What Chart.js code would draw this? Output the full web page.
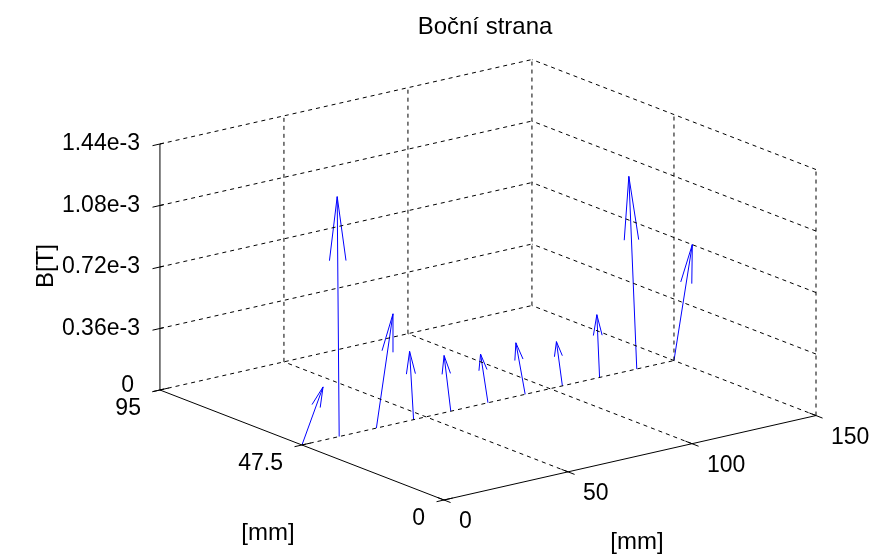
<!DOCTYPE html>
<html>
<head>
<meta charset="utf-8">
<script src="https://cdn.jsdelivr.net/npm/chart.js"></script>
<style>
  body { margin: 0; background: #fff; }
  #wrap { width: 876px; height: 556px; }
</style>
</head>
<body>
<div id="wrap"><canvas id="quiverChart" width="876" height="556"></canvas></div>
<script>
    // axis ticks (3D data units: x,y in mm, z in T)
    const xTicks = [0, 50, 100, 150]
    const yTicks = [0, 47.5, 95]
    const zTicks = [0, 0.36e-3, 0.72e-3, 1.08e-3, 1.44e-3]
    const zTickLabels = ['0', '0.36e-3', '0.72e-3', '1.08e-3', '1.44e-3']

    // quiver3 data: arrows start on the line y = 47.5, z = 0
    const arrowX = [0, 15, 30, 45, 60, 75, 90, 105, 120, 135, 150]
    const arrowY = [47.5, 47.5, 47.5, 47.5, 47.5, 47.5, 47.5, 47.5, 47.5, 47.5, 47.5]
    const arrowU = [8.5, -0.8, 6.7, -1.6, -2.7, -3.0, -3.75, -2.4, -1.1, -3.2, 7.4]
    const arrowW = [0.312e-3, 1.407e-3, 0.647e-3, 0.405e-3, 0.335e-3, 0.295e-3, 0.314e-3, 0.267e-3, 0.371e-3, 1.138e-3, 0.655e-3]

    const W = 876, H = 556
    const TICK_FONT = '23px "Liberation Sans", Arial, sans-serif'
    const LABEL_FONT = '24px "Liberation Sans", Arial, sans-serif'

    // fixed camera of the original figure: 3D point -> plane of the chart
    const cam = { ox: 444, oy: 500, xx: 2.48, xy: -0.563, yx: -2.99, yy: -1.158, zy: -170833 }
    function proj(x, y, z) {
        return { x: cam.ox + cam.xx * x + cam.yx * y, y: cam.oy + cam.xy * x + cam.yy * y + cam.zy * z }
    }

    const GAP = { x: NaN, y: NaN }
    function seg(list, a, b) {
        list.push(proj(a[0], a[1], a[2]), proj(b[0], b[1], b[2]), GAP)
    }

    const xMax = xTicks[xTicks.length - 1], yMax = yTicks[yTicks.length - 1], zMax = zTicks[zTicks.length - 1]

    // solid axis lines + ticks
    const axisPts = []
    seg(axisPts, [0, yMax, 0], [0, yMax, zMax])
    seg(axisPts, [0, 0, 0], [0, yMax, 0])
    seg(axisPts, [0, 0, 0], [xMax, 0, 0])
    zTicks.forEach(z => seg(axisPts, [-3, yMax, z], [1.5, yMax, z]))
    xTicks.forEach(x => seg(axisPts, [x, 2.2, 0], [x, -2.2, 0]))
    yTicks.forEach(y => seg(axisPts, [-3, y, 0], [3.5, y, 0]))

    // dashed grid on the back walls and the floor
    const gridPts = []
    xTicks.slice(1).forEach(x => seg(gridPts, [x, yMax, 0], [x, yMax, zMax]))
    yTicks.slice(0, -1).forEach(y => seg(gridPts, [xMax, y, 0], [xMax, y, zMax]))
    zTicks.forEach(z => {
        seg(gridPts, [0, yMax, z], [xMax, yMax, z])
        seg(gridPts, [xMax, 0, z], [xMax, yMax, z])
    })
    xTicks.slice(1, -1).forEach(x => seg(gridPts, [x, 0, 0], [x, yMax, 0]))
    yTicks.slice(1, -1).forEach(y => seg(gridPts, [0, y, 0], [xMax, y, 0]))

    // arrows: shaft + two barbs, barbs built on the projected plane
    const arrowPts = []
    arrowX.forEach((x0, i) => {
        const a = proj(x0, arrowY[i], 0)
        const b = proj(x0 + arrowU[i], arrowY[i], arrowW[i])
        arrowPts.push(a, b, GAP)
        const dx = b.x - a.x, dy = b.y - a.y
        const len = Math.hypot(dx, dy)
        const ux = dx / len, uy = dy / len
        const hl = Math.min(0.33 * len, 64), hw = 3 + 0.022 * len
        arrowPts.push({ x: b.x - ux * hl - uy * hw, y: b.y - uy * hl + ux * hw }, b,
                      { x: b.x - ux * hl + uy * hw, y: b.y - uy * hl - ux * hw }, GAP)
    })

    // tick labels placed next to their projected tick points
    const labels = []
    zTicks.forEach((z, i) => {
        const p = proj(0, yMax, z)
        if (i === 0) labels.push({ t: zTickLabels[i], x: p.x - 26, y: p.y - 4, align: 'right' })
        else labels.push({ t: zTickLabels[i], x: p.x - 20, y: p.y, align: 'right' })
    })
    yTicks.forEach(y => {
        const p = proj(0, y, 0)
        labels.push({ t: String(y), x: p.x - 19, y: p.y + 19, align: 'right' })
    })
    xTicks.forEach(x => {
        const p = proj(x, 0, 0)
        labels.push({ t: String(x), x: p.x + 15, y: p.y + 22, align: 'left' })
    })

    const textPlugin = {
        id: 'planeText',
        afterDraw(chart) {
            const ctx = chart.ctx, sx = chart.scales.x, sy = chart.scales.y
            ctx.save()
            ctx.fillStyle = '#000'
            ctx.textBaseline = 'middle'
            ctx.font = TICK_FONT
            labels.forEach(l => {
                ctx.textAlign = l.align
                ctx.fillText(l.t, sx.getPixelForValue(l.x), sy.getPixelForValue(l.y))
            })
            ctx.font = LABEL_FONT
            ctx.textAlign = 'center'
            ctx.fillText('Boční strana', sx.getPixelForValue(485), sy.getPixelForValue(27))
            ctx.fillText('[mm]', sx.getPixelForValue(637), sy.getPixelForValue(542))
            ctx.fillText('[mm]', sx.getPixelForValue(268), sy.getPixelForValue(533))
            ctx.translate(sx.getPixelForValue(46), sy.getPixelForValue(266))
            ctx.rotate(-Math.PI / 2)
            ctx.fillText('B[T]', 0, 0)
            ctx.restore()
        }
    }

    const lineDs = (pts, color, dash) => ({
        data: pts, showLine: true, borderColor: color, borderWidth: 1,
        borderDash: dash, pointRadius: 0, spanGaps: false, tension: 0
    })

    new Chart(document.getElementById('quiverChart'), {
        type: 'scatter',
        data: {
            datasets: [
                lineDs(gridPts, '#000', [4, 4]),
                lineDs(axisPts, '#000', []),
                lineDs(arrowPts, '#0000ff', [])
            ]
        },
        options: {
            responsive: false,
            animation: false,
            layout: { padding: 0 },
            plugins: { legend: { display: false }, tooltip: { enabled: false } },
            scales: {
                x: { type: 'linear', min: 0, max: W, display: false },
                y: { type: 'linear', min: 0, max: H, reverse: true, display: false }
            }
        },
        plugins: [textPlugin]
    })
</script>
</body>
</html>
